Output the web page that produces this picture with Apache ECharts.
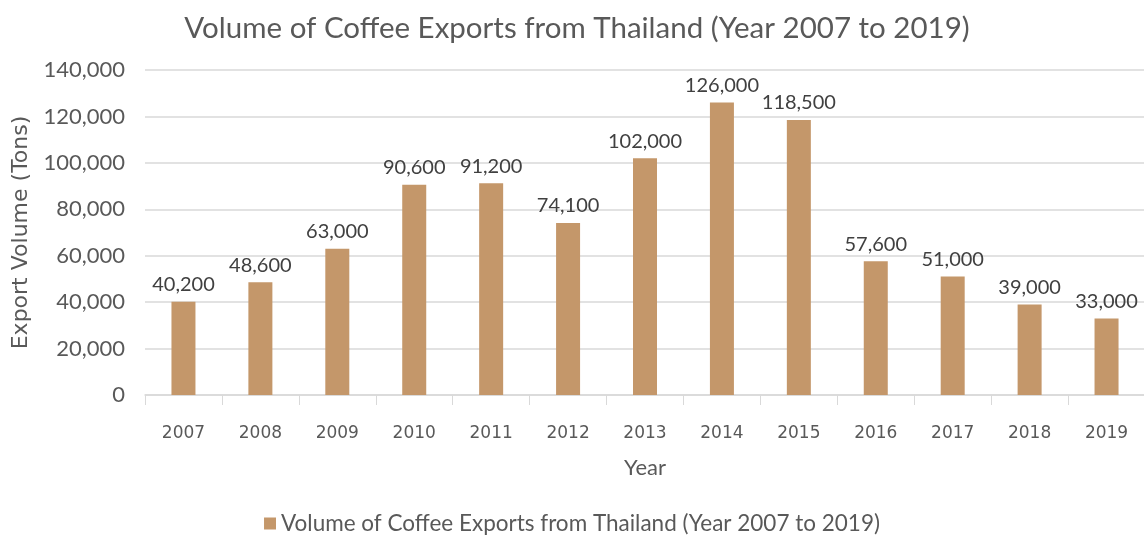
<!DOCTYPE html>
<html><head><meta charset="utf-8">
<script src="https://cdn.jsdelivr.net/npm/echarts@6/dist/echarts.min.js"></script>
<style>html,body{margin:0;padding:0;background:#fff}#c{width:1144px;height:537px}</style>
</head><body><div id="c"></div>
<script>
const categories = ['2007','2008','2009','2010','2011','2012','2013','2014','2015','2016','2017','2018','2019'];
const values = [40200,48600,63000,90600,91200,74100,102000,126000,118500,57600,51000,39000,33000];
const seriesName = 'Volume of Coffee Exports from Thailand (Year 2007 to 2019)';
const chart = echarts.init(document.getElementById('c'));
chart.setOption({
  animation:false,
  title:{text:'Volume of Coffee Exports from Thailand (Year 2007 to 2019)',left:572,top:8,textAlign:'center',
    textStyle:{fontFamily:'Lato',fontSize:29.5,fontWeight:'normal',color:'#595959'}},
  legend:{top:507,left:'center',itemWidth:12,itemHeight:12,icon:'rect',itemGap:6,
    textStyle:{fontFamily:'Lato',fontSize:22.5,color:'#595959'}},
  grid:{left:145,top:70,width:1000,height:325,outerBoundsMode:'none',containLabel:false},
  xAxis:{type:'category',data:categories,name:'Year',nameLocation:'middle',nameGap:62,
    nameTextStyle:{fontFamily:'Lato',fontSize:22,color:'#595959'},
    axisLine:{lineStyle:{color:'#d9d9d9',width:1.5}},
    axisTick:{show:true,length:10,lineStyle:{color:'#d9d9d9'}},
    axisLabel:{fontFamily:'DejaVu Sans',fontSize:17,color:'#595959',margin:30}},
  yAxis:{type:'value',min:0,max:140000,interval:20000,name:'Export Volume (Tons)',nameLocation:'middle',nameGap:108,
    nameTextStyle:{fontFamily:'DejaVu Sans',fontSize:22,color:'#595959'},
    axisLine:{show:false},axisTick:{show:false},
    splitLine:{lineStyle:{color:'#d9d9d9',width:1.5}},
    axisLabel:{fontFamily:'Lato',fontSize:22,color:'#595959',margin:20,
      formatter:v=>v.toLocaleString('en-US')}},
  series:[{type:'bar',name:seriesName,data:values,barWidth:24,
    itemStyle:{color:'#C4976A'},
    label:{show:true,position:'top',distance:7,fontFamily:'Lato',fontSize:20,color:'#404040',
      formatter:p=>p.value.toLocaleString('en-US')}}]
});
</script></body></html>
